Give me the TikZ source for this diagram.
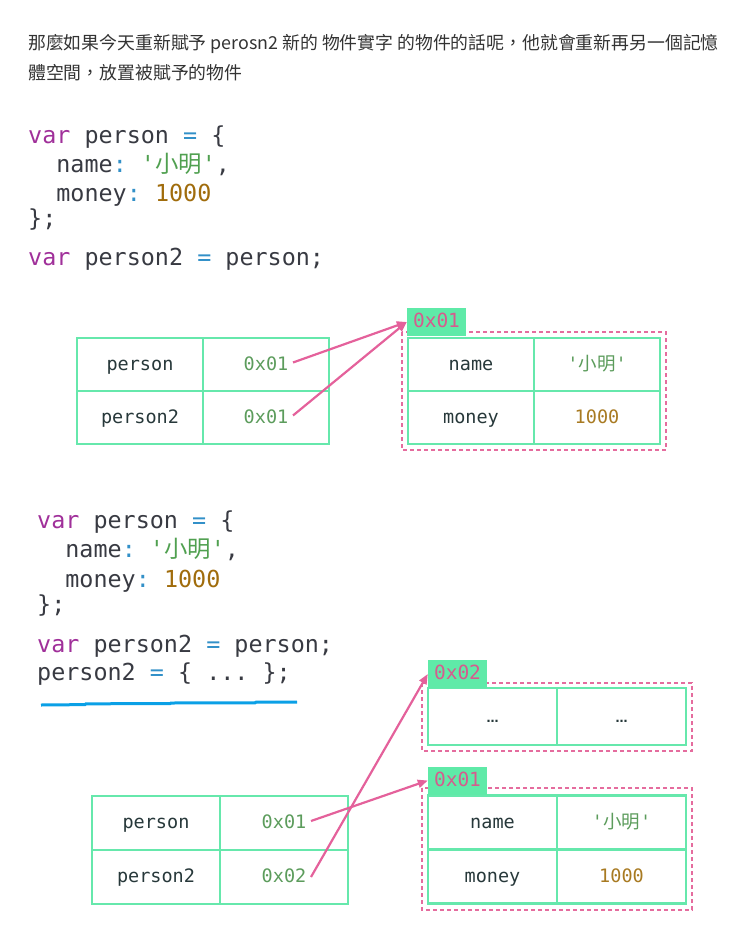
\documentclass[tikz,border=0pt]{standalone}
\usepackage{fontspec}
\setmonofont{DejaVu Sans Mono}
\newfontfamily\cjk{Noto Sans CJK TC}
\newfontfamily\dejasans{DejaVu Sans}
\usetikzlibrary{calc,arrows.meta}

\definecolor{mint}{HTML}{66E8AC}
\definecolor{tagfill}{HTML}{5FEAA8}
\definecolor{ptrpink}{HTML}{E4619B}
\definecolor{dashpink}{HTML}{E56C9E}
\definecolor{tagtext}{HTML}{D65B8E}
\definecolor{codetext}{HTML}{383A42}
\definecolor{codekw}{HTML}{A0309A}
\definecolor{codeop}{HTML}{3290C8}
\definecolor{codestr}{HTML}{50A050}
\definecolor{codenum}{HTML}{A06C0C}
\definecolor{cellval}{HTML}{5C9C5C}
\definecolor{cellnum}{HTML}{A87A22}
\definecolor{celltext}{HTML}{27383A}
\definecolor{prose}{HTML}{333333}
\definecolor{markblue}{HTML}{0AA0E6}

\newcommand\cKw[1]{\textcolor{codekw}{#1}}
\newcommand\cOp[1]{\textcolor{codeop}{#1}}
\newcommand\cStr[1]{\textcolor{codestr}{#1}}
\newcommand\cNum[1]{\textcolor{codenum}{#1}}

\tikzset{
  prosetext/.style={anchor=base west, inner sep=0pt, text=prose,
    font=\cjk\fontsize{17.85}{20}\selectfont},
  codeline/.style={anchor=base west, inner sep=0pt, text=codetext,
    font=\ttfamily\fontsize{23.4}{28}\selectfont},
  cell/.style={draw=mint, line width=2.8pt, inner sep=0pt, text=celltext,
    text height=14pt, text depth=3pt,
    font=\ttfamily\fontsize{18.5}{22}\selectfont},
  tag/.style={fill=tagfill, inner sep=0pt, text=tagtext,
    text height=14pt, text depth=3pt,
    font=\ttfamily\fontsize{19.5}{22}\selectfont},
  dashbox/.style={draw=dashpink, line width=2.2pt, dash pattern=on 4pt off 3pt},
  ptr/.style={draw=ptrpink, line width=2.2pt, -{Triangle[length=10pt,width=8pt]}},
  underline/.style={draw=markblue, line width=3pt}
}

\begin{document}
\begin{tikzpicture}[x=1pt, y=-1pt]
\useasboundingbox (0,0) rectangle (736,934);

% prose
\node[prosetext] (p1) at (28,50) {那麼如果今天重新賦予 perosn2 新的 物件實字 的物件的話呢，他就會重新再另一個記憶};
\node[prosetext] (p2) at (28,79) {體空間，放置被賦予的物件};

% first code block
\node[codeline] (a1) at (28,143) {\cKw{var} person \cOp{=} \{};
\node[codeline] (a2) at (56.2,172) {name\cOp{:} \cStr{'{\cjk 小明}'},};
\node[codeline] (a3) at (56.2,201) {money\cOp{:} \cNum{1000}};
\node[codeline] (a4) at (28,226) {\};};
\node[codeline] (a5) at (28,265) {\cKw{var} person2 \cOp{=} person;};

% first memory picture: variables
\node[cell, minimum width=126pt, minimum height=53pt] (v1n) at (140,364.5) {person};
\node[cell, minimum width=126pt, minimum height=53pt, text=cellval] (v1a) at (266,364.5) {0x01};
\node[cell, minimum width=126pt, minimum height=53pt] (v2n) at (140,417.5) {person2};
\node[cell, minimum width=126pt, minimum height=53pt, text=cellval] (v2a) at (266,417.5) {0x01};

% first memory picture: object at 0x01
\draw[dashbox] (402,332) rectangle (666,450);
\node[cell, minimum width=126pt, minimum height=53pt] (o1k) at (471,364.5) {name};
\node[cell, minimum width=126pt, minimum height=53pt, text=cellval] (o1v) at (597,364.5) {'{\cjk 小明}'};
\node[cell, minimum width=126pt, minimum height=53pt] (o2k) at (471,417.5) {money};
\node[cell, minimum width=126pt, minimum height=53pt, text=cellnum] (o2v) at (597,417.5) {1000};
\node[tag, minimum width=59pt, minimum height=28pt] (t1) at (436.5,322) {0x01};

\draw[ptr] ($(v1a.center)+(27,-2)$) -- (t1.west);
\draw[ptr] ($(v2a.center)+(27,-2)$) -- (t1.west);

% second code block
\node[codeline] (b1) at (37,528) {\cKw{var} person \cOp{=} \{};
\node[codeline] (b2) at (65.2,557) {name\cOp{:} \cStr{'{\cjk 小明}'},};
\node[codeline] (b3) at (65.2,587) {money\cOp{:} \cNum{1000}};
\node[codeline] (b4) at (37,612) {\};};
\node[codeline] (b5) at (37,652) {\cKw{var} person2 \cOp{=} person;};
\node[codeline] (b6) at (37,680) {person2 \cOp{=} \{ ... \};};

% hand-drawn underline
\draw[underline] (41,705) -- (85,704.6) -- (86,703.8) -- (170,703.6) -- (171,703) -- (255,702.8) -- (256,702.2) -- (297,702);

% second memory picture: variables
\node[cell, minimum width=128pt, minimum height=54pt] (w1n) at (156,823) {person};
\node[cell, minimum width=128pt, minimum height=54pt, text=cellval] (w1a) at (284,823) {0x01};
\node[cell, minimum width=128pt, minimum height=54pt] (w2n) at (156,877) {person2};
\node[cell, minimum width=128pt, minimum height=54pt, text=cellval] (w2a) at (284,877) {0x02};

% second memory picture: new object at 0x02
\draw[dashbox] (422,683) rectangle (692,751);
\node[cell, minimum width=129pt, minimum height=57pt, font=\dejasans\bfseries\fontsize{12}{14}\selectfont] (n1k) at (492.5,716.5) {…};
\node[cell, minimum width=129pt, minimum height=57pt, font=\dejasans\bfseries\fontsize{12}{14}\selectfont] (n1v) at (621.5,716.5) {…};
\node[tag, minimum width=59pt, minimum height=28pt] (t2) at (457.5,674) {0x02};

% second memory picture: original object at 0x01
\draw[dashbox] (422,788) rectangle (692,910);
\node[cell, minimum width=129pt, minimum height=54pt] (m1k) at (492.5,822.5) {name};
\node[cell, minimum width=129pt, minimum height=54pt, text=cellval] (m1v) at (621.5,822.5) {'{\cjk 小明}'};
\node[cell, minimum width=129pt, minimum height=54pt] (m2k) at (492.5,876.5) {money};
\node[cell, minimum width=129pt, minimum height=54pt, text=cellnum] (m2v) at (621.5,876.5) {1000};
\node[tag, minimum width=59pt, minimum height=28pt] (t3) at (457.5,780.5) {0x01};

\draw[ptr] ($(w1a.center)+(27,-2)$) -- (t3.west);
\draw[ptr] ($(w2a.center)+(27,0)$) -- (t2.west);
\end{tikzpicture}
\end{document}
